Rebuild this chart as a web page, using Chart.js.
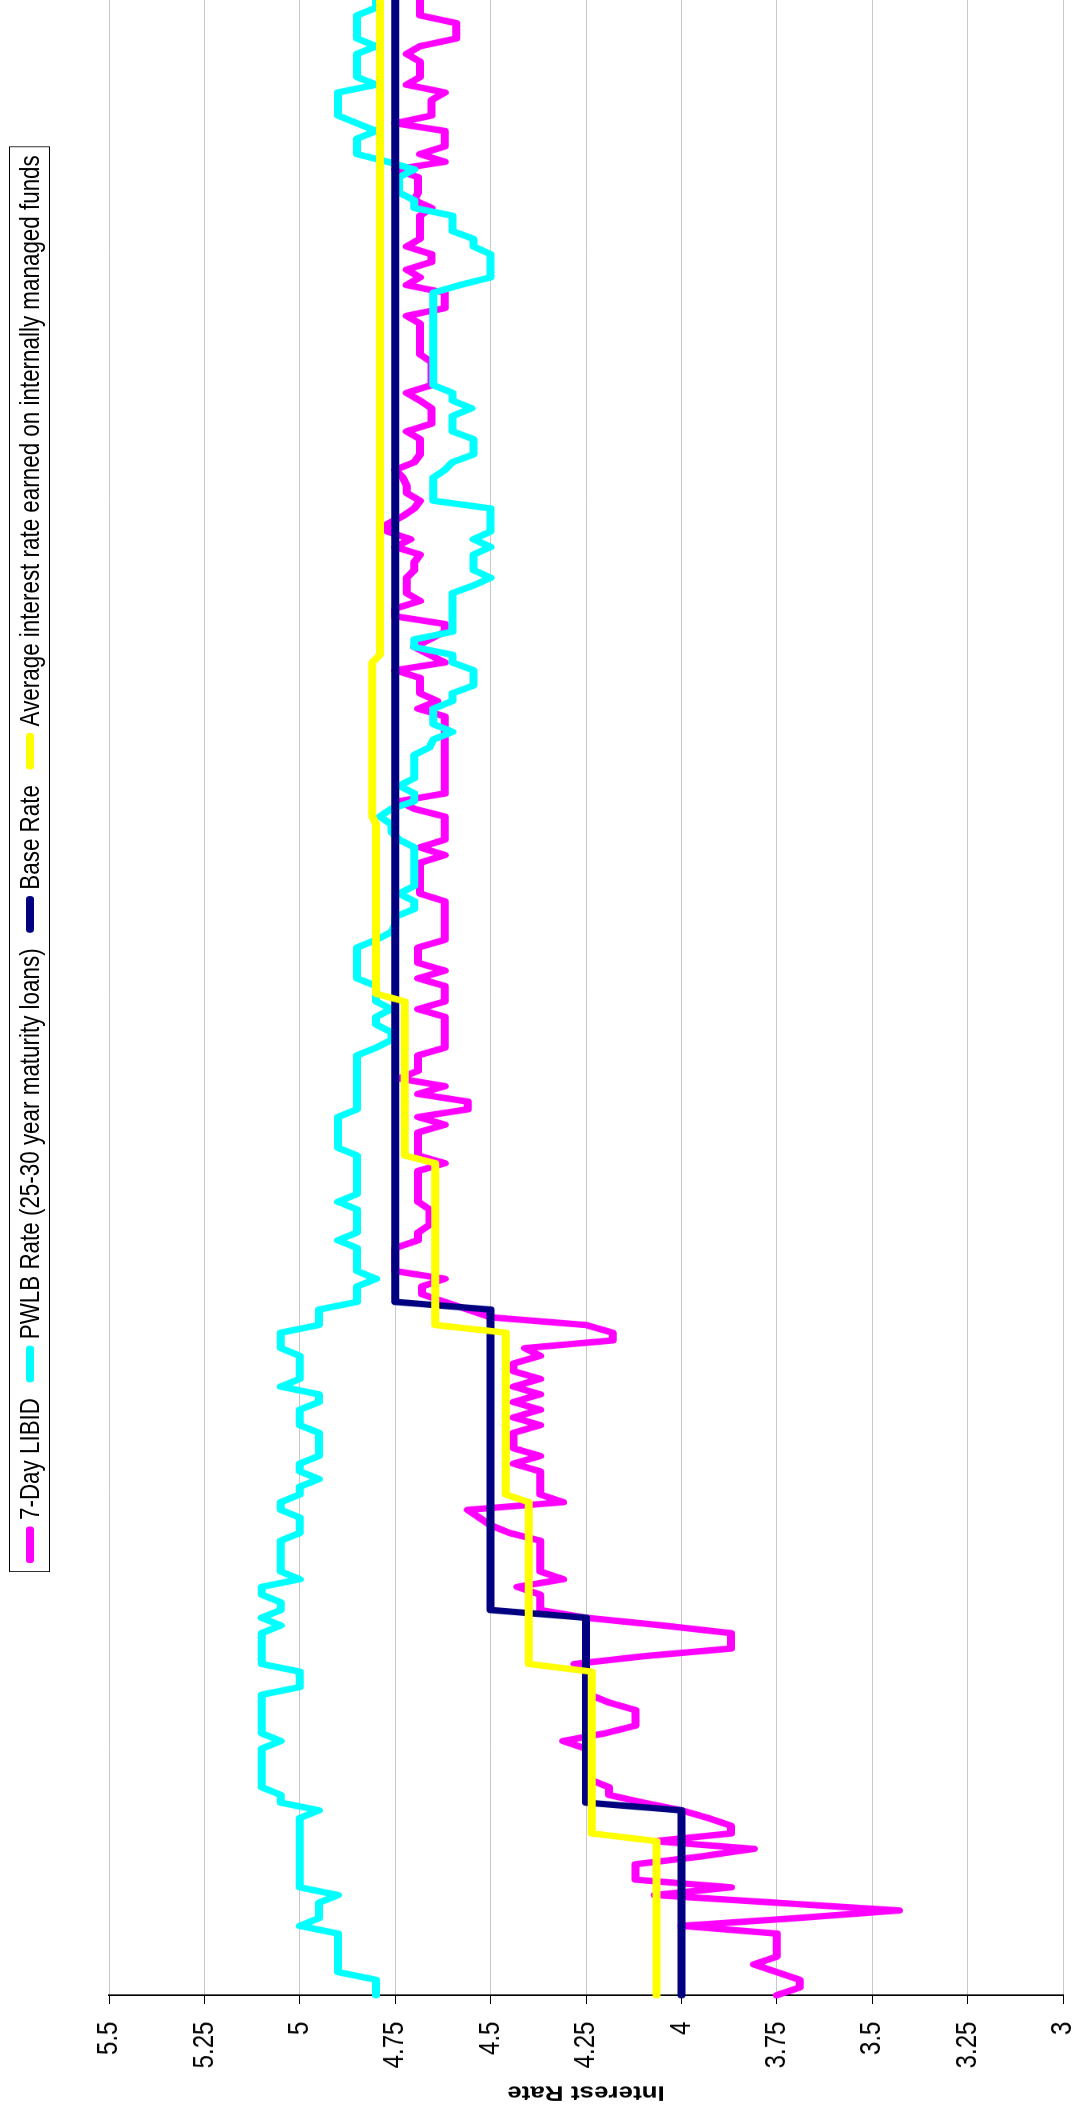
<!DOCTYPE html>
<html>
<head>
<meta charset="utf-8">
<script src="https://cdn.jsdelivr.net/npm/chart.js@4.4.0/dist/chart.umd.min.js"></script>
<style>
    html, body { margin: 0; padding: 0; background: #fff; overflow: hidden; }
    #page { position: absolute; left: 0; top: 0; width: 1077px; height: 2116px; overflow: hidden; background: #fff; }
    /* the chart is laid out landscape, squeezed a little along its width, then turned on its side */
    #frame { position: absolute; left: 0; top: 0; width: 2645px; height: 1077px; transform-origin: 0 0;
             transform: translateY(2116px) rotate(-90deg) scaleX(0.8); }
    #chart { position: absolute; left: 0; top: 0; }
    #legend { position: absolute; left: 680px; top: 9px; width: 1782px; height: 41px; box-sizing: border-box;
              border: 1px solid #000; background: #fff; display: flex; align-items: center;
              justify-content: space-between; padding: 0 10px;
              font: 28px 'Liberation Sans', Arial, sans-serif; color: #000; white-space: nowrap; }
    #legend .item { display: flex; align-items: center; }
    #legend .swatch { display: inline-block; width: 46px; height: 8px; border-radius: 4px; margin-right: 8px; }
</style>
</head>
<body>
<div id="page">
    <div id="frame">
        <canvas id="chart" width="2645" height="1077"></canvas>
        <div id="legend"></div>
    </div>
</div>
<script>
const seriesLabels = [
    "7-Day LIBID",
    "PWLB Rate (25-30 year maturity loans)",
    "Base Rate",
    "Average interest rate earned on internally managed funds",
];
const seriesColors = ["#ff00ff", "#00ffff", "#000080", "#ffff00"];

// one value per business day, April to March
const libid = [
    3.75, 3.69, 3.69, 3.75, 3.81, 3.75, 3.75, 3.75, 3.75, 4.00,
    3.70, 3.43, 3.75, 4.07, 3.87, 4.12, 4.12, 4.12, 3.95, 3.81,
    4.07, 3.87, 3.87, 3.93, 4.00, 4.10, 4.19, 4.19, 4.24, 4.25,
    4.25, 4.25, 4.25, 4.31, 4.20, 4.12, 4.12, 4.12, 4.19, 4.24,
    4.25, 4.25, 4.25, 4.28, 4.10, 3.87, 3.87, 3.87, 4.05, 4.25,
    4.37, 4.37, 4.37, 4.43, 4.31, 4.37, 4.37, 4.37, 4.37, 4.37,
    4.45, 4.50, 4.53, 4.56, 4.31, 4.37, 4.37, 4.37, 4.37, 4.44,
    4.37, 4.44, 4.44, 4.44, 4.37, 4.44, 4.37, 4.44, 4.37, 4.44,
    4.37, 4.44, 4.44, 4.37, 4.41, 4.18, 4.18, 4.25, 4.50, 4.56,
    4.62, 4.68, 4.68, 4.62, 4.75, 4.75, 4.75, 4.75, 4.69, 4.69,
    4.66, 4.66, 4.66, 4.69, 4.69, 4.69, 4.69, 4.69, 4.62, 4.69,
    4.69, 4.69, 4.69, 4.62, 4.69, 4.56, 4.56, 4.69, 4.62, 4.74,
    4.69, 4.69, 4.69, 4.62, 4.62, 4.62, 4.62, 4.62, 4.69, 4.62,
    4.62, 4.62, 4.69, 4.62, 4.69, 4.69, 4.69, 4.62, 4.62, 4.62,
    4.62, 4.62, 4.62, 4.685, 4.685, 4.685, 4.685, 4.685, 4.62, 4.685,
    4.62, 4.62, 4.62, 4.62, 4.70, 4.74, 4.62, 4.62, 4.62, 4.62,
    4.62, 4.62, 4.62, 4.62, 4.62, 4.62, 4.62, 4.69, 4.64, 4.685,
    4.685, 4.685, 4.75, 4.62, 4.66, 4.70, 4.66, 4.62, 4.62, 4.75,
    4.75, 4.685, 4.72, 4.72, 4.72, 4.70, 4.70, 4.685, 4.75, 4.71,
    4.77, 4.77, 4.73, 4.70, 4.685, 4.72, 4.72, 4.73, 4.75, 4.70,
    4.685, 4.685, 4.685, 4.72, 4.655, 4.655, 4.655, 4.685, 4.72, 4.655,
    4.655, 4.655, 4.655, 4.685, 4.685, 4.685, 4.685, 4.685, 4.72, 4.62,
    4.62, 4.62, 4.72, 4.685, 4.72, 4.655, 4.655, 4.72, 4.685, 4.685,
    4.685, 4.685, 4.655, 4.70, 4.69, 4.69, 4.69, 4.75, 4.62, 4.685,
    4.62, 4.62, 4.62, 4.75, 4.655, 4.655, 4.655, 4.62, 4.72, 4.685,
    4.685, 4.685, 4.72, 4.685, 4.59, 4.59, 4.59, 4.685, 4.685, 4.685,
];

const pwlb = [
    4.80, 4.80, 4.80, 4.90, 4.90, 4.90, 4.90, 4.90, 4.90, 5.00,
    4.95, 4.95, 4.95, 4.90, 5.00, 5.00, 5.00, 5.00, 5.00, 5.00,
    5.00, 5.00, 5.00, 5.00, 4.95, 5.05, 5.05, 5.10, 5.10, 5.10,
    5.10, 5.10, 5.10, 5.05, 5.10, 5.10, 5.10, 5.10, 5.10, 5.10,
    5.00, 5.00, 5.00, 5.10, 5.10, 5.10, 5.10, 5.10, 5.05, 5.10,
    5.05, 5.05, 5.10, 5.10, 5.00, 5.05, 5.05, 5.05, 5.05, 5.05,
    5.00, 5.00, 5.00, 5.05, 5.05, 5.00, 5.00, 4.95, 5.00, 5.00,
    4.95, 4.95, 4.95, 4.95, 5.00, 5.00, 5.00, 4.95, 4.95, 5.05,
    5.00, 5.00, 5.00, 5.00, 5.05, 5.05, 5.05, 4.95, 4.95, 4.95,
    4.85, 4.85, 4.85, 4.80, 4.85, 4.85, 4.85, 4.85, 4.90, 4.85,
    4.85, 4.85, 4.85, 4.90, 4.85, 4.85, 4.85, 4.85, 4.85, 4.85,
    4.90, 4.90, 4.90, 4.90, 4.90, 4.85, 4.85, 4.85, 4.85, 4.85,
    4.85, 4.85, 4.85, 4.80, 4.76, 4.76, 4.80, 4.80, 4.76, 4.80,
    4.80, 4.80, 4.85, 4.85, 4.85, 4.85, 4.85, 4.80, 4.76, 4.75,
    4.75, 4.70, 4.70, 4.74, 4.70, 4.70, 4.70, 4.70, 4.70, 4.70,
    4.74, 4.76, 4.76, 4.79, 4.76, 4.70, 4.70, 4.74, 4.70, 4.70,
    4.70, 4.70, 4.66, 4.65, 4.60, 4.65, 4.65, 4.65, 4.60, 4.60,
    4.545, 4.545, 4.545, 4.60, 4.60, 4.70, 4.70, 4.60, 4.60, 4.60,
    4.60, 4.60, 4.60, 4.545, 4.50, 4.545, 4.545, 4.545, 4.50, 4.545,
    4.50, 4.50, 4.50, 4.50, 4.65, 4.65, 4.65, 4.65, 4.62, 4.60,
    4.545, 4.545, 4.545, 4.60, 4.60, 4.60, 4.55, 4.60, 4.60, 4.65,
    4.65, 4.65, 4.65, 4.65, 4.65, 4.65, 4.65, 4.65, 4.65, 4.65,
    4.65, 4.65, 4.58, 4.50, 4.50, 4.50, 4.50, 4.545, 4.545, 4.60,
    4.60, 4.60, 4.70, 4.70, 4.74, 4.74, 4.74, 4.70, 4.77, 4.85,
    4.85, 4.85, 4.80, 4.85, 4.90, 4.90, 4.90, 4.90, 4.80, 4.85,
    4.85, 4.85, 4.85, 4.80, 4.85, 4.85, 4.85, 4.85, 4.80, 4.80,
];

const baseRate = [
    4.00, 4.00, 4.00, 4.00, 4.00, 4.00, 4.00, 4.00, 4.00, 4.00,
    4.00, 4.00, 4.00, 4.00, 4.00, 4.00, 4.00, 4.00, 4.00, 4.00,
    4.00, 4.00, 4.00, 4.00, 4.00, 4.25, 4.25, 4.25, 4.25, 4.25,
    4.25, 4.25, 4.25, 4.25, 4.25, 4.25, 4.25, 4.25, 4.25, 4.25,
    4.25, 4.25, 4.25, 4.25, 4.25, 4.25, 4.25, 4.25, 4.25, 4.25,
    4.50, 4.50, 4.50, 4.50, 4.50, 4.50, 4.50, 4.50, 4.50, 4.50,
    4.50, 4.50, 4.50, 4.50, 4.50, 4.50, 4.50, 4.50, 4.50, 4.50,
    4.50, 4.50, 4.50, 4.50, 4.50, 4.50, 4.50, 4.50, 4.50, 4.50,
    4.50, 4.50, 4.50, 4.50, 4.50, 4.50, 4.50, 4.50, 4.50, 4.50,
    4.75, 4.75, 4.75, 4.75, 4.75, 4.75, 4.75, 4.75, 4.75, 4.75,
    4.75, 4.75, 4.75, 4.75, 4.75, 4.75, 4.75, 4.75, 4.75, 4.75,
    4.75, 4.75, 4.75, 4.75, 4.75, 4.75, 4.75, 4.75, 4.75, 4.75,
    4.75, 4.75, 4.75, 4.75, 4.75, 4.75, 4.75, 4.75, 4.75, 4.75,
    4.75, 4.75, 4.75, 4.75, 4.75, 4.75, 4.75, 4.75, 4.75, 4.75,
    4.75, 4.75, 4.75, 4.75, 4.75, 4.75, 4.75, 4.75, 4.75, 4.75,
    4.75, 4.75, 4.75, 4.75, 4.75, 4.75, 4.75, 4.75, 4.75, 4.75,
    4.75, 4.75, 4.75, 4.75, 4.75, 4.75, 4.75, 4.75, 4.75, 4.75,
    4.75, 4.75, 4.75, 4.75, 4.75, 4.75, 4.75, 4.75, 4.75, 4.75,
    4.75, 4.75, 4.75, 4.75, 4.75, 4.75, 4.75, 4.75, 4.75, 4.75,
    4.75, 4.75, 4.75, 4.75, 4.75, 4.75, 4.75, 4.75, 4.75, 4.75,
    4.75, 4.75, 4.75, 4.75, 4.75, 4.75, 4.75, 4.75, 4.75, 4.75,
    4.75, 4.75, 4.75, 4.75, 4.75, 4.75, 4.75, 4.75, 4.75, 4.75,
    4.75, 4.75, 4.75, 4.75, 4.75, 4.75, 4.75, 4.75, 4.75, 4.75,
    4.75, 4.75, 4.75, 4.75, 4.75, 4.75, 4.75, 4.75, 4.75, 4.75,
    4.75, 4.75, 4.75, 4.75, 4.75, 4.75, 4.75, 4.75, 4.75, 4.75,
    4.75, 4.75, 4.75, 4.75, 4.75, 4.75, 4.75, 4.75, 4.75, 4.75,
];

const avgEarned = [
    4.065, 4.065, 4.065, 4.065, 4.065, 4.065, 4.065, 4.065, 4.065, 4.065,
    4.065, 4.065, 4.065, 4.065, 4.065, 4.065, 4.065, 4.065, 4.065, 4.065,
    4.065, 4.235, 4.235, 4.235, 4.235, 4.235, 4.235, 4.235, 4.235, 4.235,
    4.235, 4.235, 4.235, 4.235, 4.235, 4.235, 4.235, 4.235, 4.235, 4.235,
    4.235, 4.235, 4.235, 4.40, 4.40, 4.40, 4.40, 4.40, 4.40, 4.40,
    4.40, 4.40, 4.40, 4.40, 4.40, 4.40, 4.40, 4.40, 4.40, 4.40,
    4.40, 4.40, 4.40, 4.40, 4.40, 4.46, 4.46, 4.46, 4.46, 4.46,
    4.46, 4.46, 4.46, 4.46, 4.46, 4.46, 4.46, 4.46, 4.46, 4.46,
    4.46, 4.46, 4.46, 4.46, 4.46, 4.46, 4.46, 4.645, 4.645, 4.645,
    4.645, 4.645, 4.645, 4.645, 4.645, 4.645, 4.645, 4.645, 4.645, 4.645,
    4.645, 4.645, 4.645, 4.645, 4.645, 4.645, 4.645, 4.645, 4.645, 4.725,
    4.725, 4.725, 4.725, 4.725, 4.725, 4.725, 4.725, 4.725, 4.725, 4.725,
    4.725, 4.725, 4.725, 4.725, 4.725, 4.725, 4.725, 4.725, 4.725, 4.725,
    4.80, 4.80, 4.80, 4.80, 4.80, 4.80, 4.80, 4.80, 4.80, 4.80,
    4.80, 4.80, 4.80, 4.80, 4.80, 4.80, 4.80, 4.80, 4.80, 4.80,
    4.80, 4.80, 4.80, 4.81, 4.81, 4.81, 4.81, 4.81, 4.81, 4.81,
    4.81, 4.81, 4.81, 4.81, 4.81, 4.81, 4.81, 4.81, 4.81, 4.81,
    4.81, 4.81, 4.81, 4.81, 4.79, 4.79, 4.79, 4.79, 4.79, 4.79,
    4.79, 4.79, 4.79, 4.79, 4.79, 4.79, 4.79, 4.79, 4.79, 4.79,
    4.79, 4.79, 4.79, 4.79, 4.79, 4.79, 4.79, 4.79, 4.79, 4.79,
    4.79, 4.79, 4.79, 4.79, 4.79, 4.79, 4.79, 4.79, 4.79, 4.79,
    4.79, 4.79, 4.79, 4.79, 4.79, 4.79, 4.79, 4.79, 4.79, 4.79,
    4.79, 4.79, 4.79, 4.79, 4.79, 4.79, 4.79, 4.79, 4.79, 4.79,
    4.79, 4.79, 4.79, 4.79, 4.79, 4.79, 4.79, 4.79, 4.79, 4.79,
    4.79, 4.79, 4.79, 4.79, 4.79, 4.79, 4.79, 4.79, 4.79, 4.79,
    4.79, 4.79, 4.79, 4.79, 4.79, 4.79, 4.79, 4.79, 4.79, 4.79,
];

const days = libid.map((_, i) => String(i + 1));

const FONT = "'Liberation Sans', Arial, sans-serif";

// HTML legend, same order and colours as the datasets
const legendEl = document.getElementById("legend");
seriesLabels.forEach((label, index) => {
    const item = document.createElement("div");
    item.className = "item";
    const swatch = document.createElement("span");
    swatch.className = "swatch";
    swatch.style.background = seriesColors[index];
    const text = document.createElement("span");
    text.textContent = label;
    item.appendChild(swatch);
    item.appendChild(text);
    legendEl.appendChild(item);
});

const seriesData = [libid, pwlb, baseRate, avgEarned];
const datasets = seriesData.map((data, index) => ({
    label: seriesLabels[index],
    data: data,
    borderColor: seriesColors[index],
    backgroundColor: seriesColors[index],
    borderWidth: 8,
    pointRadius: 0,
    tension: 0,
    fill: false,
    borderJoinStyle: "round",
    borderCapStyle: "round",
    order: seriesData.length - index, // later series drawn on top, like the original
}));

new Chart(document.getElementById("chart"), {
    type: "line",
    data: { labels: days, datasets },
    options: {
        responsive: false,
        devicePixelRatio: 1,
        animation: false,
        layout: { padding: { top: 109, bottom: 14, left: 0, right: 0 } },
        plugins: {
            legend: { display: false },
            tooltip: { enabled: false },
        },
        scales: {
            x: { display: false },
            y: {
                min: 3,
                max: 5.5,
                ticks: {
                    stepSize: 0.25,
                    color: "#000",
                    padding: 22,
                    font: { family: FONT, size: 30 },
                    callback: (val) => String(val),
                },
                grid: { color: "#c8c8c8", lineWidth: 1, tickLength: 11, tickColor: "#000" },
                border: { color: "#000", width: 2 },
                title: {
                    display: true,
                    text: "Interest Rate",
                    color: "#000",
                    font: { family: FONT, size: 26, weight: "bold" },
                    padding: { top: 14, bottom: 0 },
                },
                afterFit(scale) {
                    scale.width = 151;
                    scale.paddingTop = 0;
                    scale.paddingBottom = 0;
                },
            },
        },
    },
});
</script>
</body>
</html>
